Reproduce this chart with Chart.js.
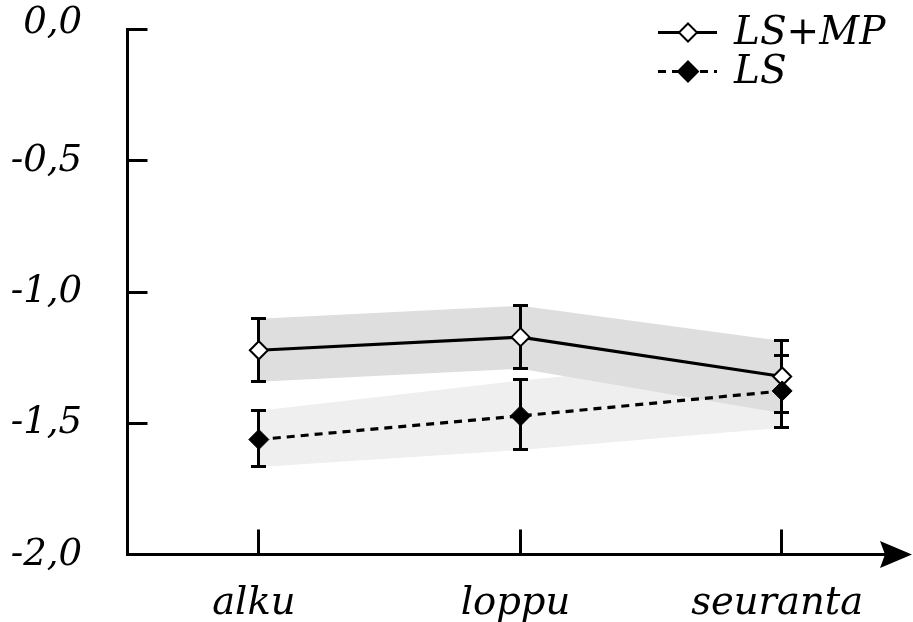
<!DOCTYPE html>
<html>
<head>
<meta charset="utf-8">
<script src="https://cdn.jsdelivr.net/npm/chart.js@4"></script>
<style>
  html, body { margin: 0; padding: 0; background: #fff; }
</style>
</head>
<body>
<canvas id="chart" width="913" height="622"></canvas>
<script>
const categories = ['alku', 'loppu', 'seuranta'];

// LS+MP: keskiarvo ja virhepalkit
const lsmpMean = [-1.22, -1.17, -1.32];
const lsmpHigh = [-1.10, -1.05, -1.185];
const lsmpLow = [-1.34, -1.29, -1.46];

// LS: keskiarvo ja virhepalkit
const lsMean = [-1.56, -1.47, -1.375];
const lsHigh = [-1.45, -1.335, -1.24];
const lsLow = [-1.665, -1.60, -1.515];

const yTicks = [0, -0.5, -1.0, -1.5, -2.0];

const FONT = { family: 'DejaVu Serif', style: 'italic', size: 37 };

const crisp = v => Math.round(v) - 0.5;

const axesPlugin = {
    id: 'axes',
    beforeDatasetsDraw(chart) {
        const ctx = chart.ctx;
        const area = chart.chartArea;
        const x = chart.scales.x, y = chart.scales.y;
        const lx = crisp(area.left), by = crisp(area.bottom);
        ctx.save();
        ctx.strokeStyle = '#000';
        ctx.lineWidth = 3;
        ctx.lineCap = 'butt';
        // y-akseli
        ctx.beginPath();
        ctx.moveTo(lx, crisp(y.getPixelForValue(0)) - 1.5);
        ctx.lineTo(lx, by + 1.5);
        ctx.stroke();
        yTicks.forEach(v => {
            const py = crisp(y.getPixelForValue(v));
            ctx.beginPath();
            ctx.moveTo(lx, py);
            ctx.lineTo(lx + 20, py);
            ctx.stroke();
        });
        // x-akseli + nuoli
        ctx.beginPath();
        ctx.moveTo(lx - 1.5, by);
        ctx.lineTo(area.right - 20, by);
        ctx.stroke();
        categories.forEach((c, i) => {
            const px = crisp(x.getPixelForValue(i));
            ctx.beginPath();
            ctx.moveTo(px, by);
            ctx.lineTo(px, by - 25);
            ctx.stroke();
        });
        ctx.fillStyle = '#000';
        ctx.beginPath();
        ctx.moveTo(area.right - 1, by);
        ctx.lineTo(area.right - 33, by - 13.5);
        ctx.lineTo(area.right - 28, by);
        ctx.lineTo(area.right - 33, by + 13.5);
        ctx.closePath();
        ctx.fill();
        ctx.restore();
    },
    beforeDatasetDraw(chart, args) {
        if (args.index !== 1) return;
        const ctx = chart.ctx;
        const x = chart.scales.x, y = chart.scales.y;
        ctx.save();
        ctx.strokeStyle = '#000';
        ctx.lineWidth = 3;
        [[lsmpLow, lsmpHigh], [lsLow, lsHigh]].forEach(([lo, hi]) => {
            lo.forEach((v, i) => {
                const px = crisp(x.getPixelForValue(i));
                const y1 = crisp(y.getPixelForValue(v));
                const y2 = crisp(y.getPixelForValue(hi[i]));
                ctx.beginPath();
                ctx.moveTo(px, y1);
                ctx.lineTo(px, y2);
                ctx.moveTo(px - 7.5, y1);
                ctx.lineTo(px + 7.5, y1);
                ctx.moveTo(px - 7.5, y2);
                ctx.lineTo(px + 7.5, y2);
                ctx.stroke();
            });
        });
        ctx.restore();
    },
    afterDraw(chart) {
        const ctx = chart.ctx;
        ctx.save();
        ctx.strokeStyle = '#000';
        ctx.lineWidth = 3;
        const rows = [
            { label: 'LS+MP', y: 32.5, dash: [], fill: '#fff', r: 9 },
            { label: 'LS', y: 71.5, dash: [8, 6], fill: '#000', r: 10 }
        ];
        rows.forEach(row => {
            ctx.setLineDash(row.dash);
            ctx.beginPath();
            ctx.moveTo(658, row.y);
            ctx.lineTo(717, row.y);
            ctx.stroke();
            ctx.setLineDash([]);
            ctx.beginPath();
            ctx.moveTo(688, row.y - row.r);
            ctx.lineTo(688 + row.r, row.y);
            ctx.lineTo(688, row.y + row.r);
            ctx.lineTo(688 - row.r, row.y);
            ctx.closePath();
            ctx.fillStyle = row.fill;
            ctx.fill();
            ctx.lineWidth = 2;
            ctx.stroke();
            ctx.lineWidth = 3;
            ctx.fillStyle = '#000';
            ctx.font = 'italic 39px "DejaVu Serif"';
            ctx.textBaseline = 'middle';
            ctx.fillText(row.label, 734, row.y + 1);
        });
        ctx.restore();
    }
};

const ctx = document.getElementById('chart').getContext('2d');
new Chart(ctx, {
    type: 'line',
    data: {
        labels: categories,
        datasets: [
            {
                label: 'LS',
                data: lsMean,
                borderColor: '#000',
                borderWidth: 3.2,
                borderDash: [8, 6],
                pointStyle: 'rectRot',
                pointRadius: 10,
                pointBackgroundColor: '#000',
                pointBorderColor: '#000',
                pointBorderWidth: 1,
                fill: false
            },
            {
                label: 'LS+MP',
                data: lsmpMean,
                borderColor: '#000',
                borderWidth: 3.2,
                pointStyle: 'rectRot',
                pointRadius: 9,
                pointBackgroundColor: '#fff',
                pointBorderColor: '#000',
                pointBorderWidth: 2,
                fill: false
            },
            { label: 'LS+MP ylä', data: lsmpHigh, borderColor: 'transparent', borderWidth: 0, pointRadius: 0, fill: false },
            { label: 'LS+MP ala', data: lsmpLow, borderColor: 'transparent', borderWidth: 0, pointRadius: 0, fill: '-1', backgroundColor: '#dedede' },
            { label: 'LS ylä', data: lsHigh, borderColor: 'transparent', borderWidth: 0, pointRadius: 0, fill: false },
            { label: 'LS ala', data: lsLow, borderColor: 'transparent', borderWidth: 0, pointRadius: 0, fill: '-1', backgroundColor: '#efefef' }
        ]
    },
    options: {
        responsive: false,
        animation: false,
        events: [],
        layout: { autoPadding: false, padding: { top: 30, right: 0, left: 0, bottom: 0 } },
        scales: {
            x: {
                type: 'category',
                offset: true,
                grid: { display: false, drawTicks: false },
                border: { display: false },
                ticks: { color: '#000', font: { ...FONT, size: 38.5 }, padding: 26, maxRotation: 0, labelOffset: -5 },
                afterFit: s => { s.height = 67; s.paddingLeft = 0; s.paddingRight = 0; }
            },
            y: {
                min: -2,
                max: 0,
                grid: { display: false, drawTicks: false },
                border: { display: false },
                afterBuildTicks: s => { s.ticks = yTicks.map(v => ({ value: v })); },
                ticks: {
                    color: '#000',
                    // ylin nimike hieman viivan yläpuolelle
                    font: c => (c.tick && c.tick.value === 0) ? { ...FONT, lineHeight: 0.38 } : FONT,
                    padding: 46,
                    callback: v => v === 0 ? ['0,0', ''] : v.toFixed(1).replace('.', ',')
                },
                afterFit: s => { s.width = 128; s.paddingTop = 0; s.paddingBottom = 0; }
            }
        },
        plugins: {
            legend: { display: false },
            tooltip: { enabled: false }
        }
    },
    plugins: [axesPlugin]
});
</script>
</body>
</html>
